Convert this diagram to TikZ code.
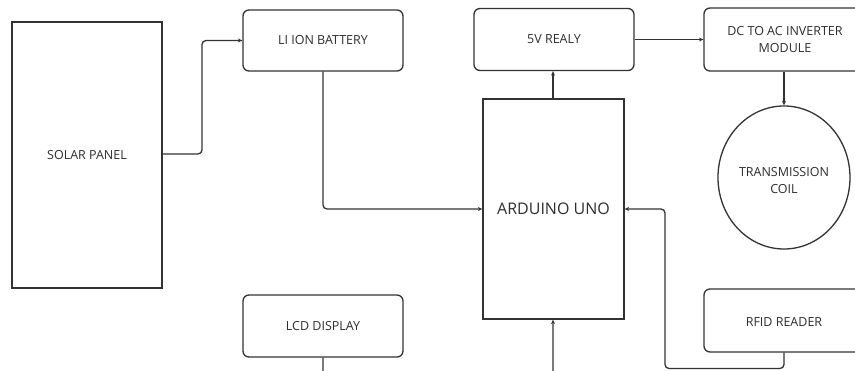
\documentclass[tikz,border=0pt]{standalone}
\usepackage{fontspec}
\setmainfont{Open Sans}
\usetikzlibrary{arrows.meta,shapes.geometric}
\definecolor{ln}{HTML}{333333}
\definecolor{tx}{HTML}{2E2E2E}
\tikzset{
  blk/.style={draw=ln, line width=1.3pt, text=tx, font=\fontsize{12.5}{17}\selectfont, align=center, inner sep=0pt},
  rbox/.style={blk, rounded corners=6pt},
  conn/.style={draw=ln, line width=1.3pt, rounded corners=4pt},
  arr/.style={conn, -{Stealth[length=4.5pt,width=4pt]}}
}
\begin{document}
\begin{tikzpicture}[x=1pt,y=-1pt]
\useasboundingbox (0,0) rectangle (855,371);
\fill[white] (0,0) rectangle (855,371);
\clip (0,0) rectangle (855,371);
\node[blk, minimum width=150pt, minimum height=266pt] (solar) at (87,155) {SOLAR PANEL};
\node[rbox, minimum width=160pt, minimum height=61pt] (bat) at (323,40.5) {LI ION BATTERY};
\node[rbox, minimum width=160pt, minimum height=62pt] (relay) at (554,39.5) {5V REALY};
\node[rbox, minimum width=162pt, minimum height=63pt] (dcac) at (785,39.5) {DC TO AC INVERTER\\MODULE};
\node[blk, ellipse, minimum width=132pt, minimum height=143pt] (coil) at (784,177.5) {};
\node[text=tx, font=\fontsize{12.5}{17}\selectfont, align=center] (coiltxt) at (784,181) {TRANSMISSION\\COIL};
\node[blk, minimum width=141pt, minimum height=220pt, font=\fontsize{16}{19}\selectfont] (ard) at (553.5,209) {ARDUINO UNO};
\node[rbox, minimum width=160pt, minimum height=62pt] (lcd) at (323,326) {LCD DISPLAY};
\node[rbox, minimum width=162pt, minimum height=63pt] (rfid) at (785,320.5) {};
\node[text=tx, font=\fontsize{12.5}{17}\selectfont] (rfidtxt) at (784,322.5) {RFID READER};
\coordinate (lcdb) at (323,376);
\coordinate (ardb) at (553,376);
\coordinate (rfb) at (665,368.5);
\coordinate (rfa) at (784,368.5);
% connectors
\draw[arr] (solar.east |- 0,154) -| (202,100) |- (bat.west);
\draw[arr] (bat.south) |- (ard.west);
\draw[arr] (ard.north -| 553,0) -- (relay.south -| 553,0);
\draw[arr] (relay.east) -- (dcac.west);
\draw[arr] (dcac.south -| 784,0) -- (coil.north);
\draw[arr] (rfid.south -| 784,0) -- (rfa) -- (rfb) |- (ard.east);
\draw[arr] (lcd.south) -- (lcdb) -- (ardb) -- (ard.south -| 553,0);
\end{tikzpicture}
\end{document}
